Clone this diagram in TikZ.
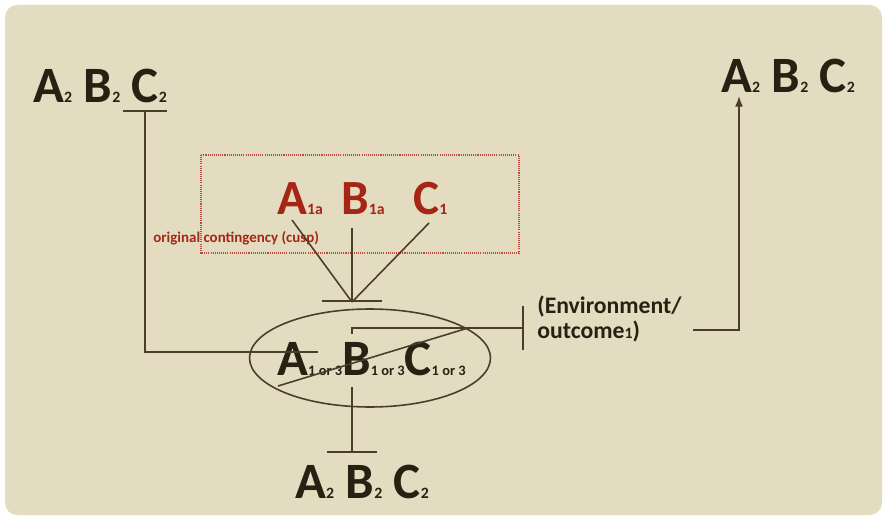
\documentclass[tikz,border=0pt]{standalone}
\usepackage{fontspec}
\setmainfont{Carlito}
\usetikzlibrary{arrows.meta,shapes.geometric}

\definecolor{paper}{RGB}{228,220,192}
\definecolor{ink}{RGB}{40,32,18}
\definecolor{wire}{RGB}{72,62,42}
\definecolor{rust}{RGB}{165,38,22}
\definecolor{boxred}{RGB}{190,75,60}

% small digits set on the baseline
\newcommand{\low}[1]{{\fontsize{9}{9}\selectfont #1}}
\newcommand{\lowor}[1]{{\fontsize{8.2}{8.5}\selectfont #1}}

\begin{document}
\begin{tikzpicture}[
  x=0.02cm, y=-0.02cm,
  >={Latex[length=6pt,width=4.5pt]},
  link/.style={draw=wire,line width=0.9pt},
  trio/.style={font=\fontsize{29}{29}\selectfont\bfseries,text=ink,inner sep=0pt,anchor=base west},
  red letter/.style={font=\fontsize{28}{28}\selectfont\bfseries,text=rust,inner sep=0pt,anchor=base west},
  cusp label/.style={font=\fontsize{8.5}{9}\selectfont\bfseries,text=rust,inner sep=0pt,anchor=base west},
  cusp box/.style={draw=boxred,line width=0.6pt,dash pattern=on 0.6pt off 0.6pt},
  env text/.style={font=\fontsize{13.5}{14.2}\selectfont\bfseries,text=ink,align=left,inner sep=0pt,anchor=west}
]
  \useasboundingbox (0,0) rectangle (884,520);
  \fill[white] (0,0) rectangle (884,520);
  \fill[paper,rounded corners=7pt] (5,5) rectangle (882,515);

  % outcome sets A2 B2 C2
  \node[trio] (tl) at (33,103) {A\low{2} B\low{2} C\low{2}};
  \node[trio] (tr) at (721,93) {A\low{2} B\low{2} C\low{2}};
  \node[trio] (bt) at (295,498) {A\low{2} B\low{2} C\low{2}};

  % original contingency (cusp)
  \draw[cusp box] (201,155) rectangle (519,253);
  \node[red letter] (a1) at (277,214) {A\low{1a}};
  \node[red letter] (b1) at (341,214) {B\low{1a}};
  \node[red letter] (c1) at (413,214) {C\low{1}};
  \node[cusp label] (cusp) at (153,242) {original contingency (cusp)};

  % central state
  \node[draw=wire,line width=0.9pt,ellipse,minimum width=4.82cm,minimum height=1.96cm,
        inner sep=0pt] (state) at (370,358) {};
  \node[trio,anchor=base west] (mid) at (277,375) {A\lowor{1 or 3}B\lowor{1 or 3}C\lowor{1 or 3}};

  \node[env text] (env) at (537,319) {(Environment/\\outcome\low{1})};

  \coordinate (a1foot) at (292,220);
  \coordinate (b1foot) at (352,228);
  \coordinate (c1foot) at (429,223);
  \coordinate (join) at (352,302);
  \coordinate (tlbar) at (145,110);
  \coordinate (tlturn) at (145,352);
  \coordinate (tlfoot) at (318,352);
  \coordinate (tick) at (352,334);
  \coordinate (tickturn) at (352,328);
  \coordinate (envbar) at (524,328);
  \coordinate (slashlo) at (278,386);
  \coordinate (slashhi) at (468,328);
  \coordinate (midfoot) at (352,387);
  \coordinate (btbar) at (352,453);
  \coordinate (envout) at (693,330);
  \coordinate (trturn) at (739,330);
  \coordinate (trin) at (739,96);

  \draw[link] (a1foot) -- (join);
  \draw[link] (c1foot) -- (join);
  \draw[link,-{Bar[width=34pt]}] (b1foot) -- (join);

  \draw[link,-{Bar[width=25.5pt]}] (tlfoot) -- (tlturn) -- (tlbar);
  \draw[link,-{Bar[width=25pt]}] (tick) -- (tickturn) -- (envbar);
  \draw[link] (slashlo) -- (slashhi);
  \draw[link,-{Bar[width=28.5pt]}] (midfoot) -- (btbar);
  \draw[link,->] (envout) -- (trturn) -- (trin);
\end{tikzpicture}
\end{document}
